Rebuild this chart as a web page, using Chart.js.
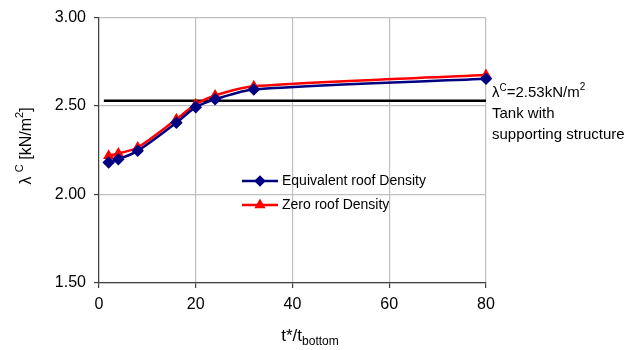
<!DOCTYPE html>
<html>
<head>
<meta charset="utf-8">
<script src="https://cdn.jsdelivr.net/npm/chart.js@4/dist/chart.umd.min.js"></script>
<style>
  body { margin: 0; background: #fff; }
  #wrap { width: 627px; height: 350px; }
</style>
</head>
<body>
<div id="wrap"><canvas id="lambdaChart" width="627" height="350"></canvas></div>
<script>
// values
const tRatio = [2, 4, 8, 16, 20, 24, 32, 80];
const equivRoof = [2.181, 2.200, 2.247, 2.406, 2.494, 2.538, 2.594, 2.654];
const zeroRoof = [2.219, 2.232, 2.266, 2.425, 2.510, 2.560, 2.612, 2.675];
const refT = [1, 80];
const refLambda = [2.53, 2.53];
const xTicks = [0, 20, 40, 60, 80];
const yTicks = [1.5, 2.0, 2.5, 3.0];

function pts(xs, ys) {
    return xs.map(function (x, i) { return { x: x, y: ys[i] }; });
}

// draws text runs, each run can be raised (super) or lowered (sub)
function drawRuns(ctx, runs, x, y, align) {
    let w = 0;
    runs.forEach(function (r) {
        ctx.font = r.size + 'px "Liberation Sans", Arial, sans-serif';
        w += ctx.measureText(r.t).width;
    });
    let cx = align === 'center' ? x - w / 2 : x;
    ctx.textAlign = 'left';
    ctx.textBaseline = 'alphabetic';
    runs.forEach(function (r) {
        ctx.font = r.size + 'px "Liberation Sans", Arial, sans-serif';
        ctx.fillText(r.t, cx, y + (r.dy || 0));
        cx += ctx.measureText(r.t).width;
    });
}

const textPlugin = {
    id: 'textPlugin',
    afterDraw: function (chart) {
        const ctx = chart.ctx;
        ctx.save();
        ctx.fillStyle = '#000';

        // y axis title, rotated
        ctx.save();
        ctx.translate(31, 146);
        ctx.rotate(-Math.PI / 2);
        drawRuns(ctx, [
            { t: 'λ ', size: 16 },
            { t: 'C', size: 11, dy: -8 },
            { t: ' [kN/m', size: 16 },
            { t: '2', size: 11, dy: -8 },
            { t: ']', size: 16 }
        ], 0, 0, 'center');
        ctx.restore();

        // x axis title
        drawRuns(ctx, [
            { t: 't*/t', size: 17 },
            { t: 'bottom', size: 12, dy: 4 }
        ], 310, 341, 'center');

        // note next to the reference line
        drawRuns(ctx, [
            { t: 'λ', size: 15 },
            { t: 'C', size: 10, dy: -6 },
            { t: '=2.53kN/m', size: 15 },
            { t: '2', size: 10, dy: -7 }
        ], 492, 97, 'left');
        drawRuns(ctx, [{ t: 'Tank with', size: 15 }], 492, 118, 'left');
        drawRuns(ctx, [{ t: 'supporting structure', size: 15 }], 492, 139, 'left');

        // legend
        const items = [
            { label: 'Equivalent roof Density', color: '#000080', style: 'rectRot', y: 181 },
            { label: 'Zero roof Density', color: '#ff0000', style: 'triangle', y: 205 }
        ];
        items.forEach(function (it) {
            ctx.strokeStyle = it.color;
            ctx.lineWidth = 2.5;
            ctx.beginPath();
            ctx.moveTo(242, it.y);
            ctx.lineTo(278, it.y);
            ctx.stroke();
            ctx.fillStyle = it.color;
            Chart.helpers.drawPoint(ctx, { pointStyle: it.style, radius: 4, borderWidth: 1 }, 260, it.y);
            ctx.fill();
            ctx.fillStyle = '#000';
            ctx.font = '14px "Liberation Sans", Arial, sans-serif';
            ctx.textBaseline = 'middle';
            ctx.fillText(it.label, 282, it.y);
        });
        ctx.restore();
    }
};

new Chart(document.getElementById('lambdaChart'), {
    type: 'line',
    data: {
        datasets: [{
            label: 'Equivalent roof Density',
            data: pts(tRatio, equivRoof),
            borderColor: '#000080',
            backgroundColor: '#000080',
            borderWidth: 2.5,
            pointStyle: 'rectRot',
            pointRadius: 4.5,
            tension: 0.3,
            clip: false
        }, {
            label: 'Zero roof Density',
            data: pts(tRatio, zeroRoof),
            borderColor: '#ff0000',
            backgroundColor: '#ff0000',
            borderWidth: 2.5,
            pointStyle: 'triangle',
            pointRadius: 4,
            tension: 0.3,
            clip: false
        }, {
            label: 'reference',
            data: pts(refT, refLambda),
            borderColor: '#000',
            borderWidth: 2.5,
            pointRadius: 0,
            clip: false
        }]
    },
    options: {
        responsive: false,
        animation: false,
        layout: { padding: { top: 16, right: 141, left: 0, bottom: 0 } },
        plugins: {
            legend: { display: false },
            tooltip: { enabled: false }
        },
        scales: {
            x: {
                type: 'linear',
                min: 0,
                max: 80,
                afterFit: function (scale) { scale.height = 67; },
                afterBuildTicks: function (scale) {
                    scale.ticks = xTicks.map(function (v) { return { value: v }; });
                },
                ticks: {
                    color: '#000',
                    padding: 7,
                    font: { family: '"Liberation Sans", Arial, sans-serif', size: 16 }
                },
                grid: { color: '#c0c0c0', tickColor: '#404040', tickLength: 5, lineWidth: 1.2 },
                border: { color: '#404040', width: 1.2 }
            },
            y: {
                min: 1.5,
                max: 3.0,
                afterFit: function (scale) { scale.width = 99; },
                afterBuildTicks: function (scale) {
                    scale.ticks = yTicks.map(function (v) { return { value: v }; });
                },
                ticks: {
                    color: '#000',
                    padding: 8,
                    font: { family: '"Liberation Sans", Arial, sans-serif', size: 16 },
                    callback: function (v) { return v.toFixed(2); }
                },
                grid: { color: '#c0c0c0', tickColor: '#404040', tickLength: 5, lineWidth: 1.2 },
                border: { color: '#404040', width: 1.2 }
            }
        }
    },
    plugins: [textPlugin]
});
</script>
</body>
</html>
